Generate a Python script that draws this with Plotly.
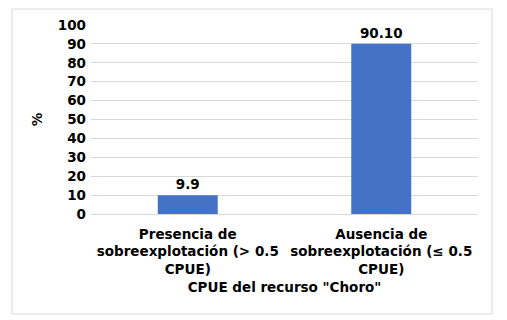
import plotly.graph_objects as go

categories = ["Presencia de<br>sobreexplotación (&gt; 0.5<br>CPUE)",
              "Ausencia de<br>sobreexplotación (≤ 0.5<br>CPUE)"]
values = [9.9, 90.10]
value_labels = ["9.9", "90.10"]
y_ticks = [0, 10, 20, 30, 40, 50, 60, 70, 80, 90, 100]

FONT = "DejaVu Sans, Verdana, sans-serif"
BF = dict(family=FONT, size=13.5, color="#000000", weight="bold")

fig = go.Figure(go.Bar(
    x=categories, y=values,
    text=value_labels, textposition="outside", cliponaxis=False,
    textfont=BF,
    marker=dict(color="#4472C4", line=dict(width=0)),
    width=0.31,
))

fig.update_layout(
    width=507, height=320,
    margin=dict(l=91, r=29, t=25, b=106, autoexpand=False),
    paper_bgcolor="white", plot_bgcolor="white",
    font=BF,
    showlegend=False,
    xaxis=dict(
        title=dict(text="CPUE del recurso \"Choro\"", standoff=6, font=BF),
        tickfont=BF, automargin=False, ticklabelstandoff=10,
        showgrid=False, showline=False, ticks="",
    ),
    yaxis=dict(
        title=dict(text="%", standoff=12, font=BF),
        range=[0, 100], tickvals=y_ticks, automargin=False,
        tickfont=BF, ticklabelstandoff=4,
        showgrid=True, gridcolor="#d9d9d9", gridwidth=1,
        zeroline=True, zerolinecolor="#d9d9d9", zerolinewidth=1,
        showline=False, ticks="", ticklen=0,
    ),
    shapes=[dict(type="rect", xref="paper", yref="paper",
                 x0=-0.2041, x1=1.0362, y0=-0.529, y1=1.0847,
                 line=dict(color="#d9d9d9", width=1), fillcolor="rgba(0,0,0,0)",
                 layer="below")],
)

fig.write_html("out.html", config={"displayModeBar": False},
               post_script="document.body.style.margin='0';document.body.style.padding='0';")
